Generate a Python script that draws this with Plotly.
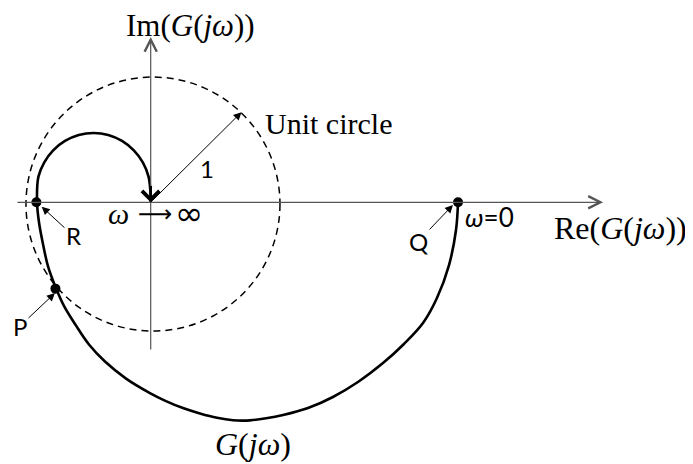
import plotly.graph_objects as go

# Nyquist locus of G(jw) (units of the unit-circle radius),
# from w = 0 (point Q) round to w -> inf (the origin)
re_g = [2.420, 2.404, 2.349, 2.254, 2.144, 1.994, 1.829, 1.632, 1.435, 1.239, 1.042,
        0.909, 0.782, 0.648, 0.522, 0.388, 0.254, 0.120, -0.006, -0.194, -0.360,
        -0.486, -0.588, -0.683, -0.746, -0.809, -0.848, -0.880, -0.895,
        -0.884, -0.839, -0.768, -0.675, -0.567, -0.450, -0.334, -0.226, -0.133,
        -0.061, -0.017, -0.002, 0.0]
im_g = [0.0, -0.218, -0.494, -0.754, -0.951, -1.116, -1.266, -1.415, -1.533, -1.620,
        -1.675, -1.701, -1.717, -1.716, -1.697, -1.663, -1.620, -1.565, -1.502, -1.388,
        -1.254, -1.120, -0.971, -0.816, -0.675, -0.502, -0.329, -0.155, 0.0,
        0.202, 0.313, 0.409, 0.483, 0.530, 0.546, 0.530, 0.483, 0.409, 0.313,
        0.202, 0.081, 0.0]

# marked points and where their letters sit
pt_names = ["Q", "R", "P"]
pt_re = [2.420, -0.900, -0.750]
pt_im = [0.0, 0.0, -0.680]
tip_re = [2.380, -0.858, -0.754]
tip_im = [-0.021, -0.035, -0.715]
name_re = [2.109, -0.608, -1.029]
name_im = [-0.305, -0.265, -0.974]

# unit circle (slightly off-centre in the sketch)
circle_cx, circle_cy, circle_r = 0.018, -0.014, 1.0

BLACK = "#000000"
AXIS = "#555555"
SERIF = "Liberation Serif"
SANS = "Lato"

fig = go.Figure()

fig.add_shape(type="circle", xref="x", yref="y",
              x0=circle_cx - circle_r, x1=circle_cx + circle_r,
              y0=circle_cy - circle_r, y1=circle_cy + circle_r,
              line=dict(color=BLACK, width=1.5, dash="7px,5px"))

fig.add_trace(go.Scatter(x=re_g, y=im_g, mode="lines",
                         line=dict(color=BLACK, width=2.6, shape="spline", smoothing=1.0),
                         hoverinfo="skip"))

fig.add_trace(go.Scatter(x=pt_re, y=pt_im, mode="markers",
                         marker=dict(color=BLACK, size=10), hoverinfo="skip"))


def arrow(x, y, ax, ay, head, width, size, color=BLACK):
    fig.add_annotation(x=x, y=y, ax=ax, ay=ay, xref="x", yref="y", axref="x", ayref="y",
                       text="", showarrow=True, arrowhead=head, arrowwidth=width,
                       arrowsize=size, arrowcolor=color)


# axes with open arrow heads
arrow(3.562, 0.0, -1.061, 0.0, 5, 1.2, 2.0, AXIS)
arrow(0.0, 1.302, 0.0, -1.171, 5, 1.2, 2.0, AXIS)
# radius arrow
arrow(0.715, 0.71, 0.0, 0.0, 2, 1.0, 1.6)
# direction arrow at the end of the locus
arrow(0.0, 0.0, 0.0, 0.14, 4, 2.6, 1.3)


def label(text, x, y, font, size, xanchor="center"):
    fig.add_annotation(x=x, y=y, xref="x", yref="y", text=text, showarrow=False,
                       xanchor=xanchor, font=dict(family=font, size=size, color=BLACK))


label("Im(<i>G</i>(<i>jω</i>))", 0.31, 1.393, SERIF, 31)
label("Re(<i>G</i>(<i>jω</i>))", 3.703, -0.202, SERIF, 32)
label("<i>G</i>(<i>jω</i>)", 0.809, -1.905, SERIF, 32)
label("Unit circle", 0.884, 0.617, SERIF, 30, xanchor="left")
label("<i>ω</i>", -0.255, -0.09, SERIF, 30)
label("⟶", 0.03, -0.09, "DejaVu Sans", 24)
label("∞", 0.298, -0.085, "DejaVu Sans", 34)
label("<i>ω</i>=0", 2.459, -0.112, SANS, 26, xanchor="left")
label("1", 0.447, 0.270, SANS, 24)

# pointer labels for Q, R, P
for name, x, y, tx, ty in zip(pt_names, tip_re, tip_im, name_re, name_im):
    fig.add_annotation(x=x, y=y, ax=tx, ay=ty, xref="x", yref="y", axref="x", ayref="y",
                       text=name, showarrow=True, arrowhead=2, arrowwidth=1.0,
                       arrowsize=1.6, arrowcolor=BLACK,
                       font=dict(family=SANS, size=24, color=BLACK))

# the page body adds an 8 px margin, so the figure is 8 px smaller than the window
fig.update_layout(
    width=685, height=456,
    margin=dict(l=0, r=0, t=0, b=0),
    paper_bgcolor="white", plot_bgcolor="white",
    showlegend=False,
    xaxis=dict(range=[-1.1236, 4.2701], visible=False, fixedrange=True),
    yaxis=dict(range=[-2.0606, 1.5299], visible=False, fixedrange=True),
)

fig.write_html("out.html")
